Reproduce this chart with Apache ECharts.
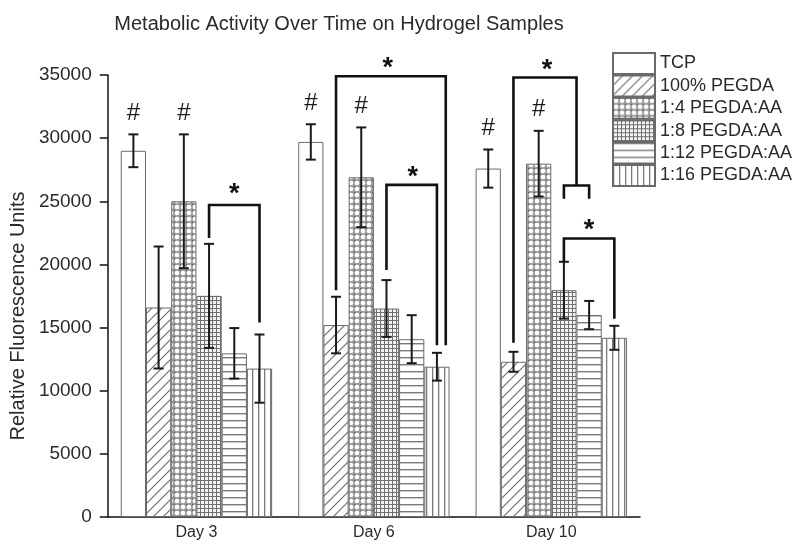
<!DOCTYPE html>
<html><head><meta charset="utf-8">
<script src="https://cdn.jsdelivr.net/npm/echarts@6/dist/echarts.min.js"></script>
<style>html,body{margin:0;padding:0;background:#fff}#c{width:801px;height:549px}</style>
</head><body><div id="c"></div>
<script>
// ---- data ----
const categories = ['Day 3', 'Day 6', 'Day 10'];
const seriesNames = ['TCP', '100% PEGDA', '1:4 PEGDA:AA', '1:8 PEGDA:AA', '1:12 PEGDA:AA', '1:16 PEGDA:AA'];
const yTicks = [0, 5000, 10000, 15000, 20000, 25000, 30000, 35000];

const tcp = [29000, 29700, 27590];
const tcpErr = [1300, 1400, 1510];
const pegda100 = [16590, 15200, 12290];
const pegda100Err = [4830, 2240, 790];
const aa4 = [25000, 26900, 27980];
const aa4Err = [5300, 3950, 2600];
const aa8 = [17510, 16510, 17960];
const aa8Err = [4120, 2250, 2250];
const aa12 = [12960, 14080, 15990];
const aa12Err = [2000, 1900, 1120];
const aa16 = [11750, 11900, 14190];
const aa16Err = [2700, 1100, 950];

// '#' marks: [category index, series index]
const hashMarks = [[0, 0], [0, 2], [1, 0], [1, 2], [2, 0], [2, 2]];
// brackets: [category index, left slot, right slot, top value, left leg end value, right leg end value]
const brackets = [
  [0, 3, 5, 24700, 22100, 15400],
  [1, 1, 5.35, 34900, 17950, 13600],
  [1, 3, 5, 26300, 19550, 13600],
  [2, 1, 3.5, 34800, 13800, 26250],
  [2, 3, 4, 26250, 25200, 25200],
  [2, 3, 5, 22050, 20250, 15700]
];
// stars: [category index, slot, value]
const stars = [
  [0, 4, 26150],
  [1, 3.05, 36150],
  [1, 4.04, 27500],
  [2, 2.33, 36000],
  [2, 4, 23300]
];

const means = [tcp, pegda100, aa4, aa8, aa12, aa16];
const errs = [tcpErr, pegda100Err, aa4Err, aa8Err, aa12Err, aa16Err];

// ---- patterns ----
function tile(w, h, draw) {
  const c = document.createElement('canvas');
  c.width = w; c.height = h;
  const g = c.getContext('2d');
  g.fillStyle = '#fff'; g.fillRect(0, 0, w, h);
  draw(g, w, h);
  return { image: c, repeat: 'repeat' };
}
const patterns = [
  '#ffffff',
  tile(10, 10, (g, w, h) => {
    g.strokeStyle = '#6a6a6a'; g.lineWidth = 1.1;
    g.beginPath();
    g.moveTo(-1, h + 1); g.lineTo(w + 1, -1);
    g.moveTo(-6, 6); g.lineTo(6, -6);
    g.moveTo(4, 16); g.lineTo(16, 4);
    g.stroke();
  }),
  tile(6, 6, (g, w, h) => {
    g.fillStyle = '#9a9a9a'; g.fillRect(0, 0, w, h);
    g.fillStyle = '#fff';
    g.beginPath(); g.arc(3, 3, 2.3, 0, Math.PI * 2); g.fill();
    g.fillStyle = '#555';
    g.fillRect(0, 0, 1, 1);
  }),
  tile(4, 4, (g, w, h) => {
    g.fillStyle = '#6e6e6e';
    g.fillRect(0, 0, w, 1); g.fillRect(0, 0, 1, h);
    g.fillStyle = '#f4f4f4'; g.fillRect(1, 1, 3, 3);
  }),
  tile(4, 7, (g, w, h) => {
    g.fillStyle = '#7a7a7a'; g.fillRect(0, 0, w, 1.4);
  }),
  tile(6, 4, (g, w, h) => {
    g.fillStyle = '#7a7a7a'; g.fillRect(0, 0, 1.3, h);
  })
];

const FONT = 'Liberation Sans, Arial, sans-serif';
const GAP = 0.147;

const barSeries = seriesNames.map((name, i) => ({
  name, type: 'bar', data: means[i],
  barGap: '0%', barCategoryGap: (GAP * 100) + '%',
  itemStyle: { color: patterns[i], borderColor: '#6a6a6a', borderWidth: 1 },
  emphasis: { disabled: true },
  animation: false, z: 2
}));

function slotX(api, cat, slot) {
  const cx = api.coord([cat, 0])[0];
  const bw = api.size([1, 0])[0] * (1 - GAP) / 6;
  return cx + (slot - 2.5) * bw;
}

const errData = [];
means.forEach((arr, s) => arr.forEach((v, c) => errData.push([c, s, v, errs[s][c]])));

const errSeries = {
  type: 'custom', name: 'err', data: errData, z: 5, animation: false, silent: true,
  renderItem(params, api) {
    const c = api.value(0), s = api.value(1), v = api.value(2), e = api.value(3);
    const x = slotX(api, c, s);
    const yt = api.coord([c, v + e])[1], yb = api.coord([c, v - e])[1];
    const cap = 5;
    const st = { stroke: '#1a1a1a', lineWidth: 2 };
    const children = [
      { type: 'line', shape: { x1: x, y1: yt, x2: x, y2: yb }, style: st },
      { type: 'line', shape: { x1: x - cap, y1: yt, x2: x + cap, y2: yt }, style: st },
      { type: 'line', shape: { x1: x - cap, y1: yb, x2: x + cap, y2: yb }, style: st }
    ];
    const hasHash = hashMarks.some(h => h[0] === c && h[1] === s);
    if (hasHash) {
      children.push({ type: 'text', style: { text: '#', x: x, y: yt - 21, align: 'center', verticalAlign: 'middle', font: '24px ' + FONT, fill: '#1a1a1a' } });
    }
    return { type: 'group', children };
  },
  encode: { x: 0, y: 2 }
};

const bracketSeries = {
  type: 'custom', name: 'brk', data: brackets, z: 6, animation: false, silent: true,
  renderItem(params, api) {
    const c = api.value(0);
    const xl = slotX(api, c, api.value(1)), xr = slotX(api, c, api.value(2));
    const yt = api.coord([c, api.value(3)])[1];
    const yl = api.coord([c, api.value(4)])[1];
    const yr = api.coord([c, api.value(5)])[1];
    return {
      type: 'polyline',
      shape: { points: [[xl, yl], [xl, yt], [xr, yt], [xr, yr]] },
      style: { stroke: '#111', lineWidth: 2.6, fill: null, lineJoin: 'miter' }
    };
  },
  encode: { x: 0, y: 3 }
};

const starSeries = {
  type: 'custom', name: 'star', data: stars, z: 6, animation: false, silent: true,
  renderItem(params, api) {
    const c = api.value(0);
    const x = slotX(api, c, api.value(1));
    const y = api.coord([c, api.value(2)])[1];
    return { type: 'text', style: { text: '*', x: x, y: y + 8, align: 'center', verticalAlign: 'middle', font: 'bold 27px ' + FONT, fill: '#111' } };
  },
  encode: { x: 0, y: 2 }
};

const chart = echarts.init(document.getElementById('c'), null, { renderer: 'canvas' });
chart.setOption({
  animation: false,
  backgroundColor: '#fff',
  title: {
    text: 'Metabolic Activity Over Time on Hydrogel Samples',
    left: 334, top: 9, textAlign: 'center',
    textStyle: { fontFamily: FONT, fontSize: 20, fontWeight: 'normal', color: '#2a2a2a' }
  },
  legend: {
    data: seriesNames, orient: 'vertical', left: 612, top: 52, padding: 0,
    icon: 'rect',
    itemWidth: 42, itemHeight: 21, itemGap: -0.6,
    textStyle: { fontFamily: FONT, fontSize: 18, color: '#2a2a2a', lineHeight: 21 },
    selectedMode: false
  },
  grid: { left: 106, right: 161, top: 75, bottom: 32, containLabel: false },
  xAxis: {
    type: 'category', data: categories,
    axisLine: { lineStyle: { color: '#111', width: 1.5 } },
    axisTick: { alignWithLabel: true, length: 6, lineStyle: { color: '#111', width: 1.5 } },
    axisLabel: { fontFamily: FONT, fontSize: 16, color: '#2a2a2a', margin: 8 }
  },
  yAxis: {
    type: 'value', min: 0, max: 35000, interval: 5000,
    name: 'Relative Fluorescence Units', nameLocation: 'middle', nameGap: 77,
    nameTextStyle: { fontFamily: FONT, fontSize: 20, color: '#2a2a2a', padding: [0, 40, 0, 0] },
    axisLine: { show: true, lineStyle: { color: '#111', width: 1.5 } },
    axisTick: { show: true, length: 8, lineStyle: { color: '#111', width: 1.5 } },
    axisLabel: { fontFamily: FONT, fontSize: 19, color: '#2a2a2a', margin: 16,
      formatter: v => yTicks.includes(v) ? String(v) : '' },
    splitLine: { show: false }
  },
  series: [...barSeries, errSeries, bracketSeries, starSeries]
});
</script>
</body></html>
